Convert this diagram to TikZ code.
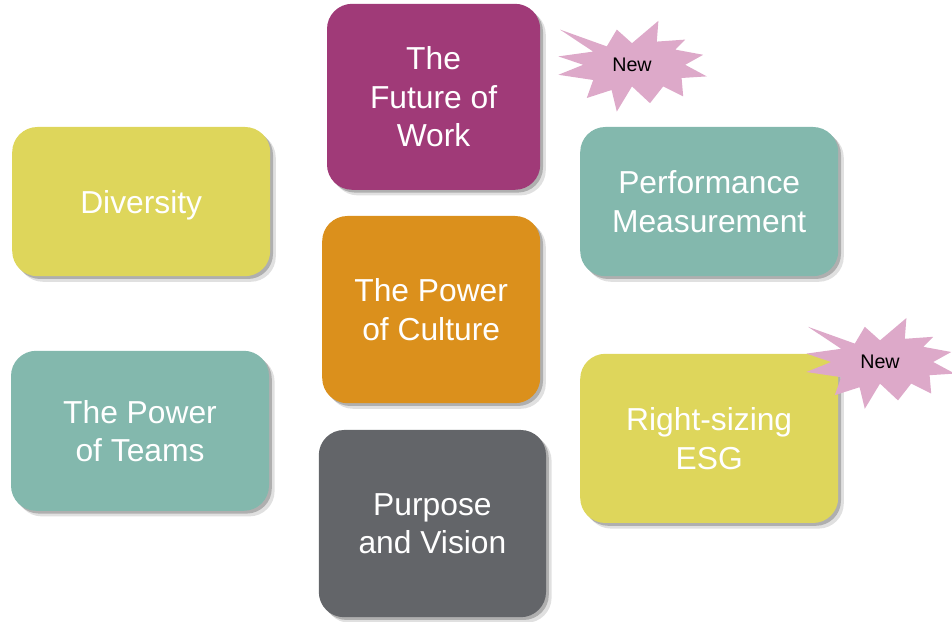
\documentclass[tikz,border=0pt]{standalone}
\usepackage{fontspec}
\setmainfont{Liberation Sans}
\usepackage{tikz}
\usetikzlibrary{shapes,shadows,calc}
\usepackage{color}
\definecolor{plum}{RGB}{160,58,120}
\definecolor{mustard}{RGB}{222,214,91}
\definecolor{sage}{RGB}{131,184,173}
\definecolor{amber}{RGB}{219,144,28}
\definecolor{slate}{RGB}{99,101,105}
\definecolor{blush}{RGB}{221,169,201}

\begin{document}
\begin{tikzpicture}[auto, outer sep=0pt, inner sep=0pt,
  box/.style={rounded corners=0.63cm, align=center, text=white, text depth=0pt,
    font=\fontsize{22.6}{27.3}\selectfont,
    drop shadow={shadow xshift=0.14cm, shadow yshift=-0.14cm, opacity=0.12, fill=black},
    drop shadow={shadow xshift=0.07cm, shadow yshift=-0.07cm, opacity=0.22, fill=black}},
  burst/.style={fill=blush},
  newtag/.style={font=\fontsize{14}{16}\selectfont}]

\useasboundingbox (0,0) rectangle (23.8,15.55);

\node[box, fill=plum, minimum width=5.33cm, minimum height=4.65cm] at (10.84, 13.13) (FUTURE) {The\\Future of\\Work};
\node[box, fill=mustard, minimum width=6.45cm, minimum height=3.73cm] at (3.53, 10.51) (DIVERSITY) {Diversity};
\node[box, fill=sage, minimum width=6.45cm, minimum height=3.73cm] at (17.73, 10.51) (PERFORMANCE) {Performance\\Measurement};
\node[box, fill=amber, minimum width=5.45cm, minimum height=4.68cm] at (10.78, 7.81) (CULTURE) {The Power\\of Culture};
\node[box, fill=sage, minimum width=6.45cm, minimum height=4.0cm] at (3.5, 4.78) (TEAMS) {The Power\\of Teams};
\node[box, fill=mustard, minimum width=6.45cm, minimum height=4.23cm] at (17.73, 4.59) (ESG) {Right-sizing\\ESG};
\node[box, fill=slate, minimum width=5.68cm, minimum height=4.68cm] at (10.81, 2.46) (PURPOSE) {Purpose\\and Vision};

% new flags
\fill[burst, shift={(15.8,13.93)}] (-1.80,0.88) -- (-0.63,0.46) -- (-0.38,0.88) -- (0.0,0.54)
    -- (0.66,1.10) -- (0.62,0.58) -- (1.33,0.63) -- (1.08,0.38) -- (1.78,0.25) -- (1.33,0.0)
    -- (1.87,-0.29) -- (1.24,-0.33) -- (1.28,-0.79) -- (0.78,-0.54) -- (0.45,-0.96) -- (0.0,-0.54)
    -- (-0.38,-1.17) -- (-0.51,-0.63) -- (-1.13,-0.83) -- (-0.97,-0.38) -- (-1.84,-0.25) -- (-1.22,0.0)
    -- (-1.84,0.21) -- (-0.97,0.33) -- cycle;
\node[newtag] at (15.8, 13.93) (NEW_1) {New};

\fill[burst, shift={(22.0,6.5)}] (-1.80,0.88) -- (-0.63,0.46) -- (-0.38,0.88) -- (0.0,0.54)
    -- (0.66,1.10) -- (0.62,0.58) -- (1.33,0.63) -- (1.08,0.38) -- (1.78,0.25) -- (1.33,0.0)
    -- (1.87,-0.29) -- (1.24,-0.33) -- (1.28,-0.79) -- (0.78,-0.54) -- (0.45,-0.96) -- (0.0,-0.54)
    -- (-0.38,-1.17) -- (-0.51,-0.63) -- (-1.13,-0.83) -- (-0.97,-0.38) -- (-1.84,-0.25) -- (-1.22,0.0)
    -- (-1.84,0.21) -- (-0.97,0.33) -- cycle;
\node[newtag] at (22.0, 6.5) (NEW_2) {New};

\end{tikzpicture}
\end{document}
